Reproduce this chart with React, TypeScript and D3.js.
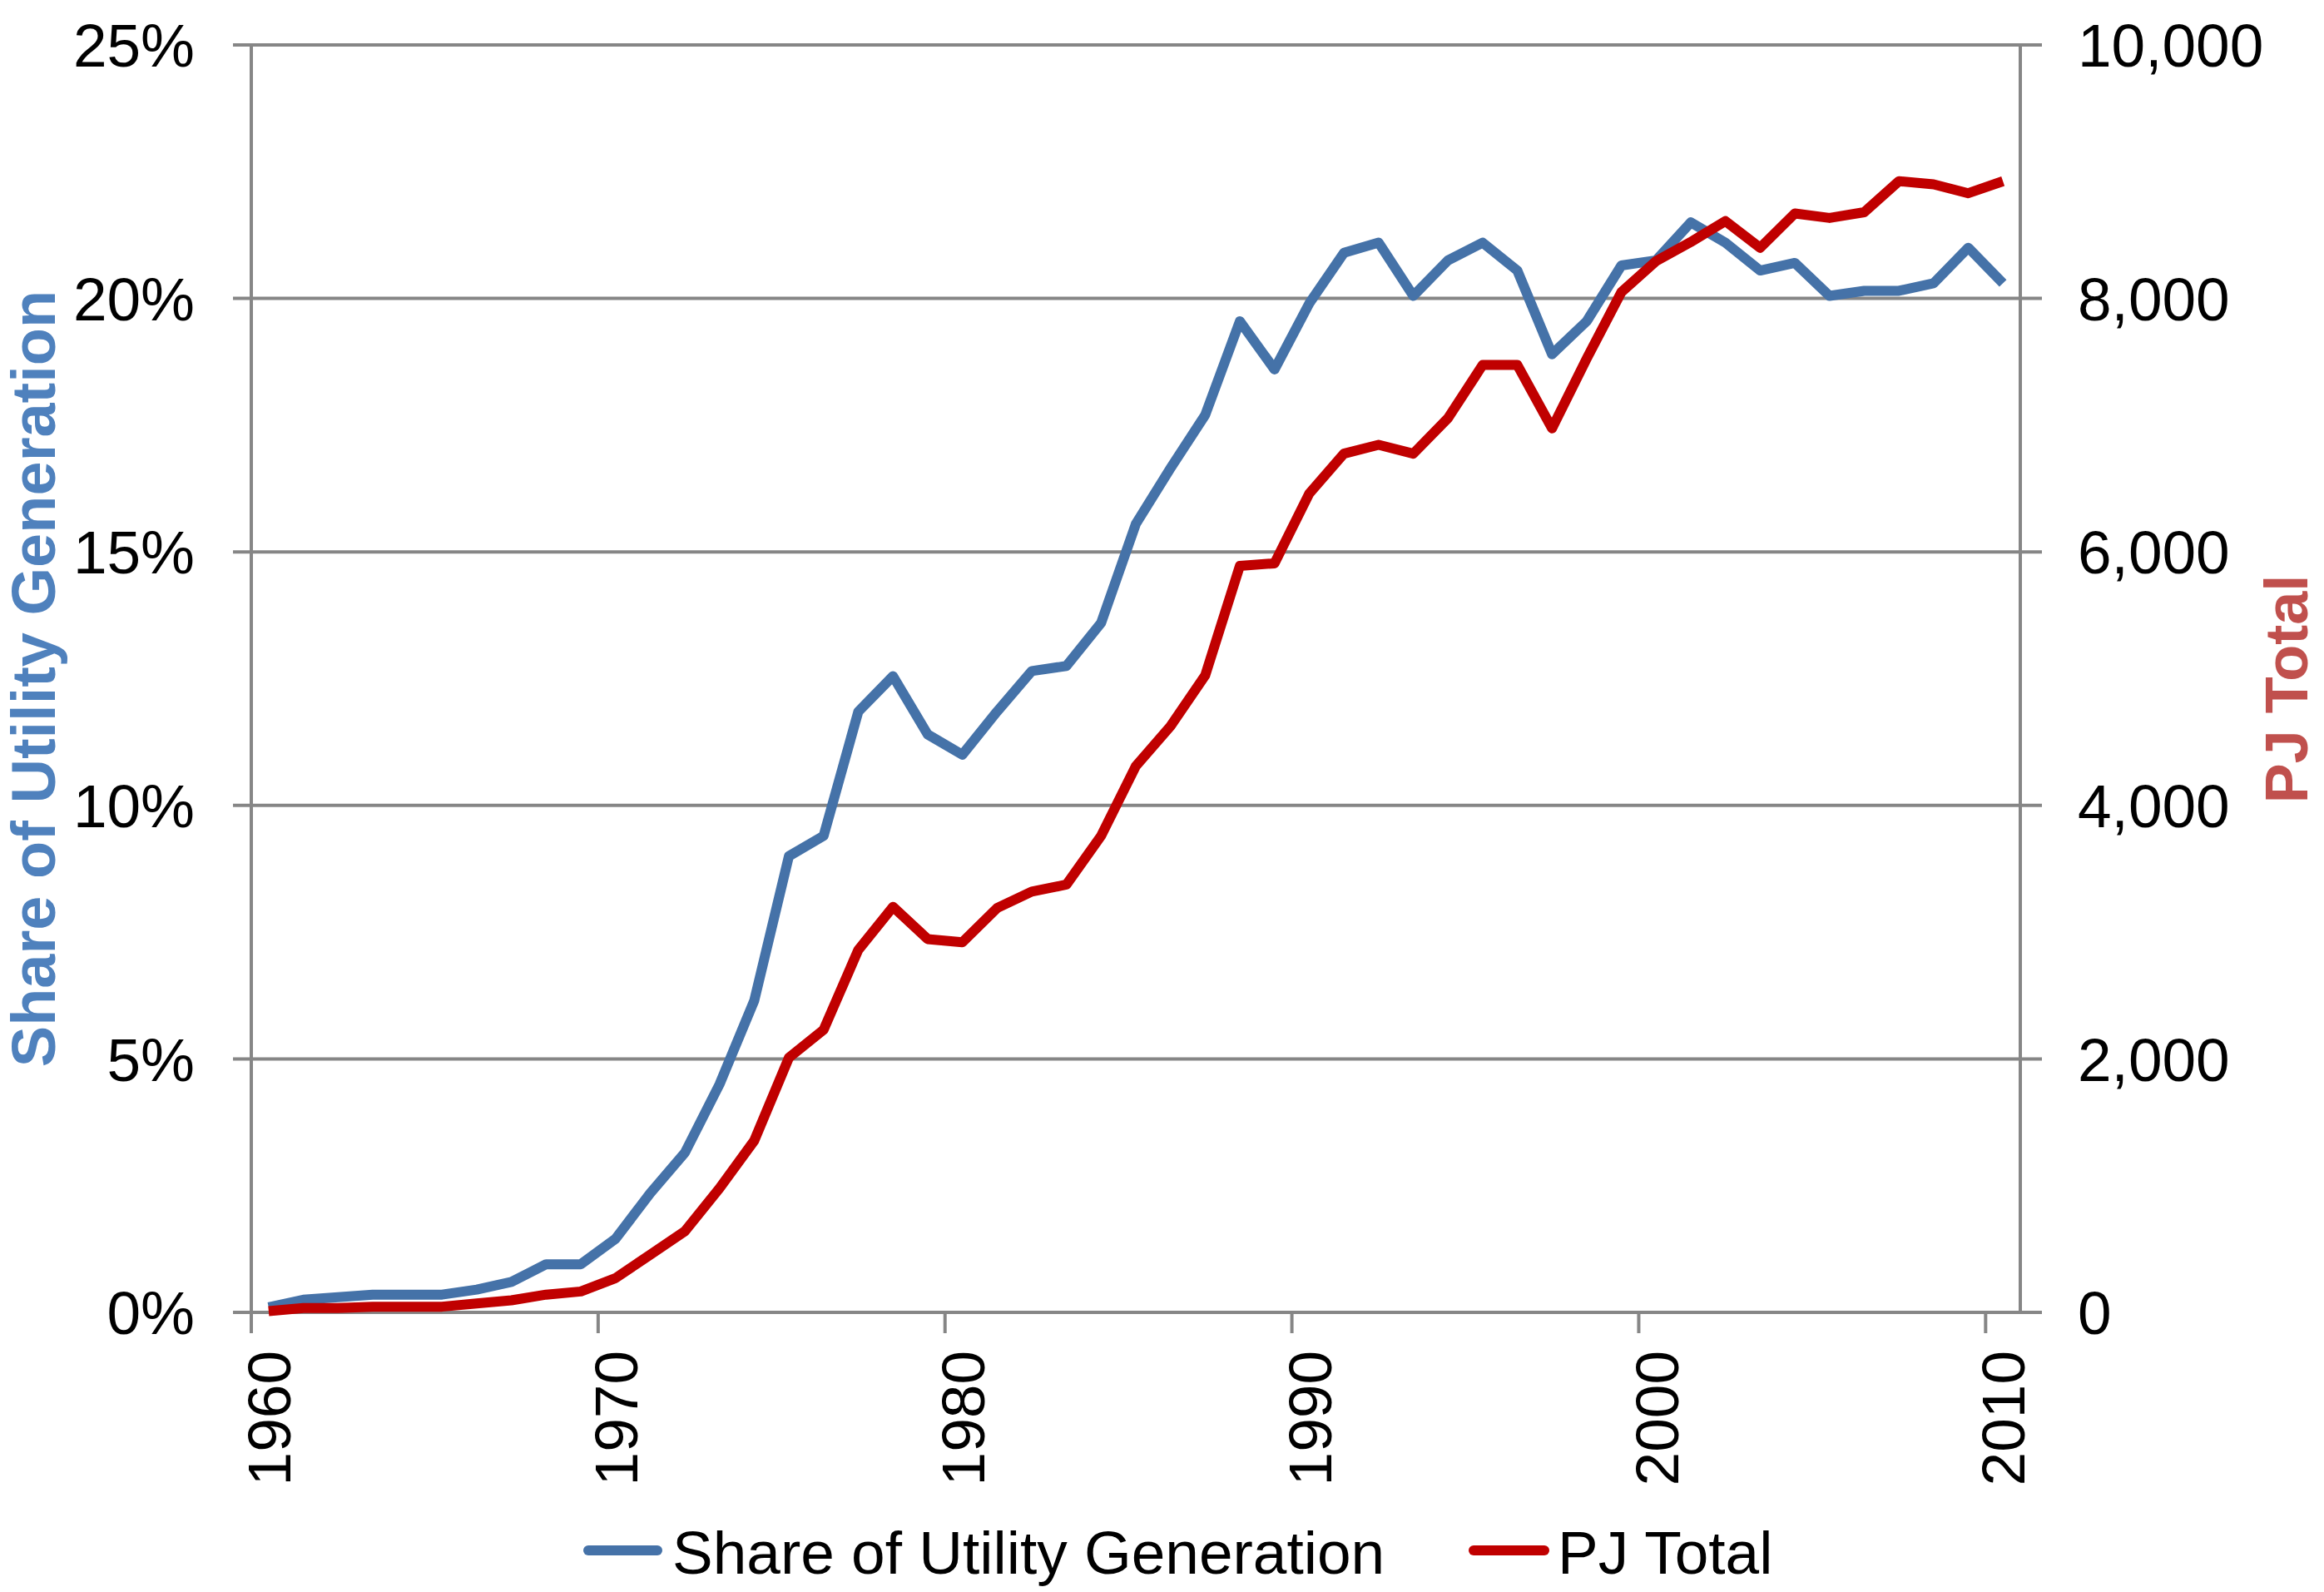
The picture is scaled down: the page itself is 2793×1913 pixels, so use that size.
import React from "react";
import * as d3 from "d3";

const years: number[] = [];
for (let y = 1960; y <= 2010; y++) years.push(y);

// Share of utility generation (%), 1960..2010
const shareValues = [
  0.1, 0.25, 0.3, 0.35, 0.35, 0.35, 0.45, 0.6, 0.95, 0.95,
  1.45, 2.35, 3.15, 4.5, 6.15, 9.0, 9.4, 11.85, 12.55, 11.4,
  11.0, 11.85, 12.65, 12.75, 13.6, 15.55, 16.65, 17.7, 19.55, 18.6,
  19.9, 20.9, 21.1, 20.05, 20.75, 21.1, 20.55, 18.9, 19.55, 20.65,
  20.75, 21.5, 21.1, 20.55, 20.7, 20.05, 20.15, 20.15, 20.3, 21.0,
  20.3,
];

// PJ total, 1960..2010
const pjValues = [
  10, 35, 35, 45, 45, 45, 70, 95, 140, 165,
  270, 455, 640, 980, 1355, 2010, 2230, 2860, 3200, 2945,
  2920, 3190, 3320, 3375, 3760, 4310, 4625, 5025, 5890, 5910,
  6460, 6775, 6845, 6775, 7055, 7475, 7475, 6975, 7525, 8050,
  8295, 8445, 8610, 8400, 8670, 8635, 8680, 8925, 8900, 8830,
  8925,
];

const leftTicks = [0, 5, 10, 15, 20, 25];
const rightTicks = [0, 2000, 4000, 6000, 8000, 10000];
const xTickLabels = [1960, 1970, 1980, 1990, 2000, 2010];

const seriesNames = ["Share of Utility Generation", "PJ Total"];

const W = 2793;
const H = 1913;
const left = 302;
const right = 2428;
const top = 54;
const bottom = 1577;

const BLUE = "#4572A8";
const RED = "#C00000";
const GRID = "#868686";
const FONT = "'Liberation Sans', Arial, sans-serif";

export default function App() {
  const x = d3.scaleBand<number>().domain(years).range([left, right]).padding(0);
  const cx = (yr: number) => (x(yr) as number) + x.bandwidth() / 2;
  const yL = d3.scaleLinear().domain([0, 25]).range([bottom, top]);
  const yR = d3.scaleLinear().domain([0, 10000]).range([bottom, top]);

  const lineL = d3
    .line<number>()
    .x((_, i) => cx(years[i]))
    .y((d) => yL(d));
  const lineR = d3
    .line<number>()
    .x((_, i) => cx(years[i]))
    .y((d) => yR(d));

  const fmt = d3.format(",");

  return (
    <svg
      width={W}
      height={H}
      style={{ position: "absolute", left: 0, top: 0, display: "block", background: "#fff" }}
      fontFamily={FONT}
    >
      <rect x={0} y={0} width={W} height={H} fill="#fff" />
      {/* gridlines */}
      {leftTicks.map((t) => (
        <line
          key={"g" + t}
          x1={left - 22}
          x2={right + 26}
          y1={yL(t)}
          y2={yL(t)}
          stroke={GRID}
          strokeWidth={4}
        />
      ))}
      {/* left axis */}
      <line x1={left} x2={left} y1={top} y2={bottom + 25} stroke={GRID} strokeWidth={4} />
      {/* right axis */}
      <line x1={right} x2={right} y1={top} y2={bottom} stroke={GRID} strokeWidth={4} />
      {/* x ticks at category boundaries every 10 */}
      {xTickLabels.map((yr) => (
        <line
          key={"xt" + yr}
          x1={x(yr) as number}
          x2={x(yr) as number}
          y1={bottom}
          y2={bottom + 25}
          stroke={GRID}
          strokeWidth={4}
        />
      ))}
      {/* left tick labels */}
      {leftTicks.map((t) => (
        <text
          key={"ll" + t}
          x={234}
          y={yL(t)}
          dy="0.36em"
          textAnchor="end"
          fontSize={73}
          fill="#000"
        >
          {t + "%"}
        </text>
      ))}
      {/* right tick labels */}
      {rightTicks.map((t) => (
        <text
          key={"rl" + t}
          x={2497}
          y={yR(t)}
          dy="0.36em"
          textAnchor="start"
          fontSize={73}
          fill="#000"
        >
          {fmt(t)}
        </text>
      ))}
      {/* x tick labels */}
      {xTickLabels.map((yr) => (
        <text
          key={"xl" + yr}
          transform={`translate(${cx(yr)},${bottom + 46}) rotate(-90)`}
          dy="0.36em"
          textAnchor="end"
          fontSize={73}
          fill="#000"
        >
          {yr}
        </text>
      ))}
      {/* axis titles */}
      <text
        transform={`translate(66,${(top + bottom) / 2}) rotate(-90)`}
        textAnchor="middle"
        fontSize={74}
        fontWeight="bold"
        fill="#4F81BD"
      >
        Share of Utility Generation
      </text>
      <text
        transform={`translate(2773,${828}) rotate(-90)`}
        textAnchor="middle"
        fontSize={72}
        fontWeight="bold"
        fill="#C0504D"
      >
        PJ Total
      </text>
      {/* series */}
      <path d={lineL(shareValues) || ""} fill="none" stroke={BLUE} strokeWidth={12} strokeLinejoin="round" />
      <path d={lineR(pjValues) || ""} fill="none" stroke={RED} strokeWidth={12} strokeLinejoin="round" />
      {/* legend */}
      <line x1={707} x2={790} y1={1863} y2={1863} stroke={BLUE} strokeWidth={12} strokeLinecap="round" />
      <text x={808} y={1891} fontSize={73} fill="#000">
        {seriesNames[0]}
      </text>
      <line x1={1771} x2={1856} y1={1863} y2={1863} stroke={RED} strokeWidth={12} strokeLinecap="round" />
      <text x={1872} y={1891} fontSize={73} fill="#000">
        {seriesNames[1]}
      </text>
    </svg>
  );
}
